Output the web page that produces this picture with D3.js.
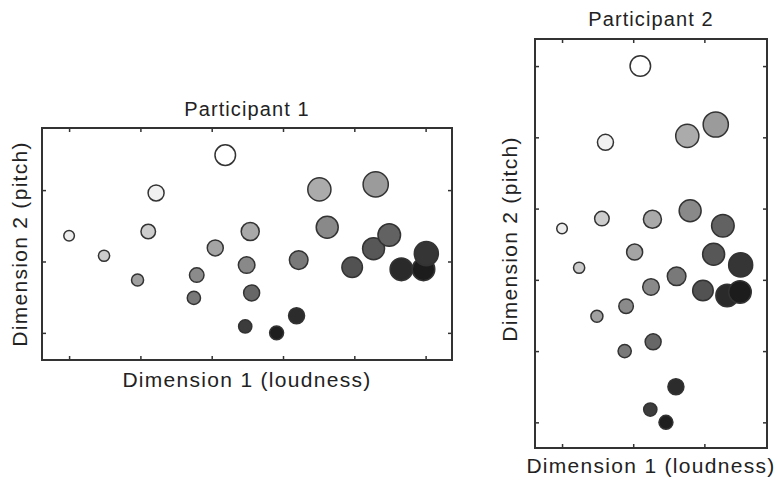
<!DOCTYPE html>
<html>
<head>
<meta charset="utf-8">
<script src="https://cdn.jsdelivr.net/npm/d3@7"></script>
<style>
  body { margin: 0; background: #fff; }
  text { font-family: "Liberation Sans", Arial, sans-serif; fill: #222; }
</style>
</head>
<body>
<svg id="chart" width="778" height="484"></svg>
<script>
// Stimulus attributes (same 25 stimuli in both panels)
const stimSize  = [0, 0.04, 0.1, 0.37, 0.27, 0.68, 0.37, 0.27, 0.18, 0.51, 0.41, 0.37, 0.18,
                   0.23, 0.37, 0.55, 0.86, 0.78, 1.0, 0.68, 0.78, 0.82, 0.82, 0.82, 0.92];
const stimShade = [0.08, 0.23, 0.42, 0.06, 0.22, 0, 0.40, 0.51, 0.59, 0.38, 0.52, 0.67, 0.86,
                   0.99, 0.93, 0.59, 0.37, 0.52, 0.44, 0.76, 0.74, 0.69, 0.94, 1.0, 0.89];

// Participant 1 coordinates
const p1x = [0.00, 0.49, 0.96, 1.22, 1.11, 2.19, 2.05, 1.79, 1.75, 2.54, 2.49, 2.56, 2.47,
             2.91, 3.19, 3.22, 3.51, 3.62, 4.30, 3.97, 4.27, 4.49, 4.66, 4.97, 5.01];
const p1y = [1.36, 1.08, 0.74, 1.96, 1.42, 2.49, 1.19, 0.81, 0.49, 1.42, 0.95, 0.56, 0.09,
             0.00, 0.24, 1.02, 2.01, 1.48, 2.08, 0.92, 1.18, 1.37, 0.89, 0.89, 1.11];

// Participant 2 coordinates
const p2x = [0.00, 0.24, 0.49, 0.61, 0.56, 1.10, 1.02, 0.90, 0.88, 1.27, 1.25, 1.28, 1.24,
             1.46, 1.60, 1.61, 1.76, 1.80, 2.16, 1.98, 2.13, 2.26, 2.32, 2.50, 2.51];
const p2y = [2.72, 2.17, 1.49, 3.93, 2.86, 5.00, 2.39, 1.63, 1.00, 2.85, 1.90, 1.13, 0.18,
             0.00, 0.50, 2.05, 4.02, 2.97, 4.18, 1.85, 2.36, 2.76, 1.78, 1.83, 2.21];

const p1xTicks = [0, 1, 2, 3, 4, 5];
const p1yTicks = [0, 1, 2];
const p2xTicks = [0, 1, 2];
const p2yTicks = [0, 1, 2, 3, 4, 5];

const svg = d3.select("#chart");

const rScale = d3.scaleLinear().domain([0, 1]).range([5.3, 12.6]);
const shadeScale = d3.scaleLinear().domain([0, 1]).range(["#ffffff", "#1c1c1c"]);

function drawPanel(cfg) {
    const x = d3.scaleLinear().domain(cfg.xDomain).range([cfg.left, cfg.right]);
    const y = d3.scaleLinear().domain(cfg.yDomain).range([cfg.bottom, cfg.top]);
    const g = svg.append("g");
    const tick = 4;

    // tick marks pointing inward on all four sides
    g.append("g").attr("transform", "translate(0," + cfg.bottom + ")")
        .call(d3.axisTop(x).tickValues(cfg.xTicks).tickSize(tick).tickFormat(""))
        .call(a => a.select(".domain").remove());
    g.append("g").attr("transform", "translate(0," + cfg.top + ")")
        .call(d3.axisBottom(x).tickValues(cfg.xTicks).tickSize(tick).tickFormat(""))
        .call(a => a.select(".domain").remove());
    g.append("g").attr("transform", "translate(" + cfg.left + ",0)")
        .call(d3.axisRight(y).tickValues(cfg.yTicks).tickSize(tick).tickFormat(""))
        .call(a => a.select(".domain").remove());
    g.append("g").attr("transform", "translate(" + cfg.right + ",0)")
        .call(d3.axisLeft(y).tickValues(cfg.yTicks).tickSize(tick).tickFormat(""))
        .call(a => a.select(".domain").remove());
    g.selectAll(".tick line").attr("stroke", "#333").attr("stroke-width", 1.5);

    const pts = cfg.xs.map((v, i) => ({ x: v, y: cfg.ys[i], s: stimSize[i], c: stimShade[i] }));
    g.selectAll("circle")
        .data(pts)
        .enter()
        .append("circle")
        .attr("cx", d => x(d.x))
        .attr("cy", d => y(d.y))
        .attr("r", d => rScale(d.s))
        .attr("fill", d => shadeScale(d.c))
        .attr("stroke", "#333")
        .attr("stroke-width", 1.5);

    // frame
    g.append("rect")
        .attr("x", cfg.left).attr("y", cfg.top)
        .attr("width", cfg.right - cfg.left).attr("height", cfg.bottom - cfg.top)
        .attr("fill", "none").attr("stroke", "#333").attr("stroke-width", 2);

    const cx = (cfg.left + cfg.right) / 2;
    g.append("text")
        .attr("x", cx).attr("y", cfg.titleY)
        .attr("text-anchor", "middle")
        .style("font-size", "20px").style("letter-spacing", "1.1px")
        .text(cfg.title);
    g.append("text")
        .attr("x", cx).attr("y", cfg.xLabelY)
        .attr("text-anchor", "middle")
        .style("font-size", "21px").style("letter-spacing", "1.3px")
        .text("Dimension 1 (loudness)");
    g.append("text")
        .attr("transform", "translate(" + cfg.yLabelX + "," + cfg.yLabelCY + ") rotate(-90)")
        .attr("text-anchor", "middle")
        .style("font-size", "21px").style("letter-spacing", "1.3px")
        .text("Dimension 2 (pitch)");
}

drawPanel({
    title: "Participant 1", xs: p1x, ys: p1y,
    xDomain: [-0.38, 5.37], yDomain: [-0.38, 2.87],
    left: 42, right: 452, top: 128, bottom: 360,
    xTicks: p1xTicks, yTicks: p1yTicks,
    titleY: 116, xLabelY: 387, yLabelX: 27, yLabelCY: 244
});

drawPanel({
    title: "Participant 2", xs: p2x, ys: p2y,
    xDomain: [-0.38, 2.88], yDomain: [-0.36, 5.38],
    left: 535, right: 767, top: 39, bottom: 448,
    xTicks: p2xTicks, yTicks: p2yTicks,
    titleY: 26, xLabelY: 473, yLabelX: 517, yLabelCY: 239
});
</script>
</body>
</html>
